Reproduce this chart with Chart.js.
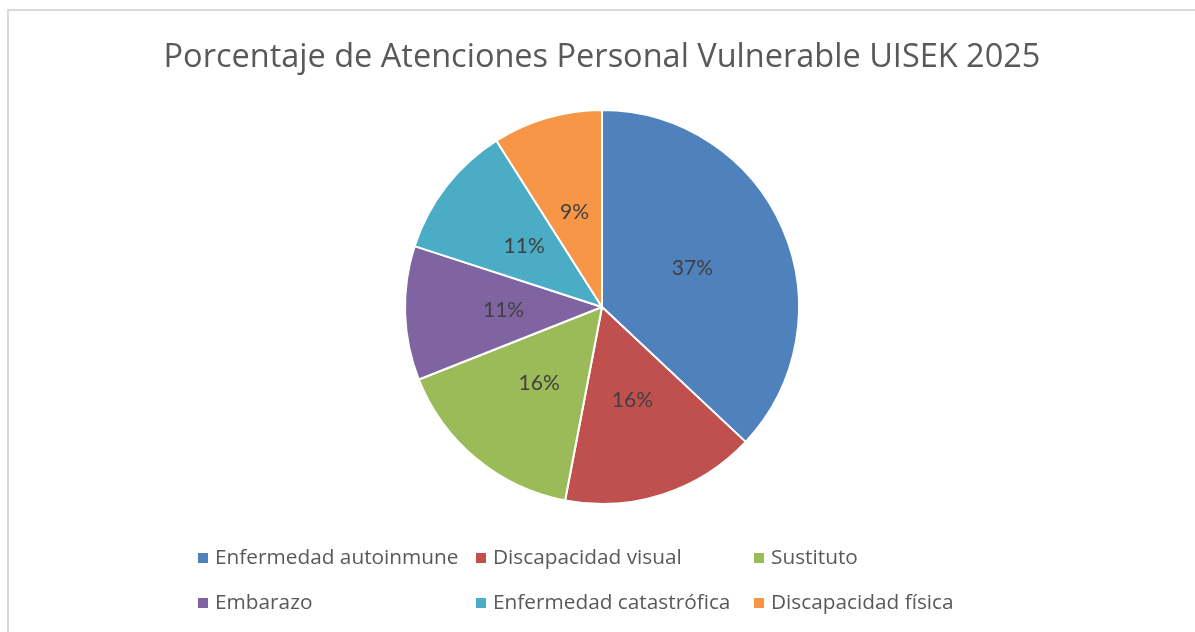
<!DOCTYPE html>
<html>
<head>
<meta charset="utf-8">
<script src="https://cdn.jsdelivr.net/npm/chart.js@4.4.1/dist/chart.umd.min.js"></script>
<style>
  html, body { margin: 0; padding: 0; background: #fff; overflow: hidden; }
  #wrap { position: relative; width: 1195px; height: 632px; }
  #frame { position: absolute; left: 7px; top: 9px; width: 1300px; height: 700px;
           border: 2px solid #d9d9d9; box-sizing: border-box; }
  canvas { position: absolute; left: 0; top: 0; }
</style>
</head>
<body>
<div id="wrap">
  <div id="frame"></div>
  <canvas id="pieChart" width="1195" height="632"></canvas>
</div>
<script>
// data (percentages)
const categories = ['Enfermedad autoinmune', 'Discapacidad visual', 'Sustituto',
                    'Embarazo', 'Enfermedad catastrófica', 'Discapacidad física'];
const shares = [37, 16, 16, 11, 11, 9];
const sliceColors = ['#4F81BD', '#C0504D', '#9BBB59', '#8064A2', '#4BACC6', '#F79646'];
const chartTitle = 'Porcentaje de Atenciones Personal Vulnerable UISEK 2025';

const TEXT_FONT = '"Open Sans", sans-serif';
const LABEL_FONT = 'Lato, "Open Sans", sans-serif';

// percentage labels inside each slice
const sliceLabels = {
    id: 'sliceLabels',
    afterDatasetsDraw(chart) {
        const ctx = chart.ctx;
        const meta = chart.getDatasetMeta(0);
        ctx.save();
        ctx.font = '21px ' + LABEL_FONT;
        ctx.fillStyle = '#404040';
        ctx.textAlign = 'center';
        ctx.textBaseline = 'middle';
        meta.data.forEach((arc, i) => {
            const p = arc.getCenterPoint();
            ctx.fillText(chart.data.datasets[0].data[i] + '%', p.x, p.y);
        });
        ctx.restore();
    }
};

// legend in fixed columns like the original
const gridLegend = {
    id: 'gridLegend',
    afterDraw(chart) {
        const ctx = chart.ctx;
        const colX = [198, 476, 754];
        const rowY = [558, 603];
        ctx.save();
        ctx.font = '20.8px ' + TEXT_FONT;
        ctx.textBaseline = 'middle';
        chart.data.labels.forEach((label, i) => {
            const x = colX[i % 3];
            const y = rowY[Math.floor(i / 3)];
            ctx.fillStyle = chart.data.datasets[0].backgroundColor[i];
            ctx.fillRect(x, y - 5, 10, 10);
            ctx.fillStyle = '#595959';
            ctx.fillText(label, x + 17, y);
        });
        ctx.restore();
    }
};

new Chart(document.getElementById('pieChart').getContext('2d'), {
    type: 'pie',
    data: {
        labels: categories,
        datasets: [{
            data: shares,
            backgroundColor: sliceColors,
            borderColor: '#ffffff',
            borderWidth: 2
        }]
    },
    options: {
        responsive: false,
        animation: false,
        radius: 197,
        layout: { padding: { left: 9, right: 0, top: 0, bottom: 118 } },
        plugins: {
            legend: { display: false },
            tooltip: { enabled: false },
            title: {
                display: true,
                text: chartTitle,
                color: '#595959',
                font: { family: TEXT_FONT, size: 32.5, weight: 'normal', lineHeight: 1.2 },
                padding: { top: 38, bottom: 23 }
            }
        }
    },
    plugins: [sliceLabels, gridLegend]
});
</script>
</body>
</html>
